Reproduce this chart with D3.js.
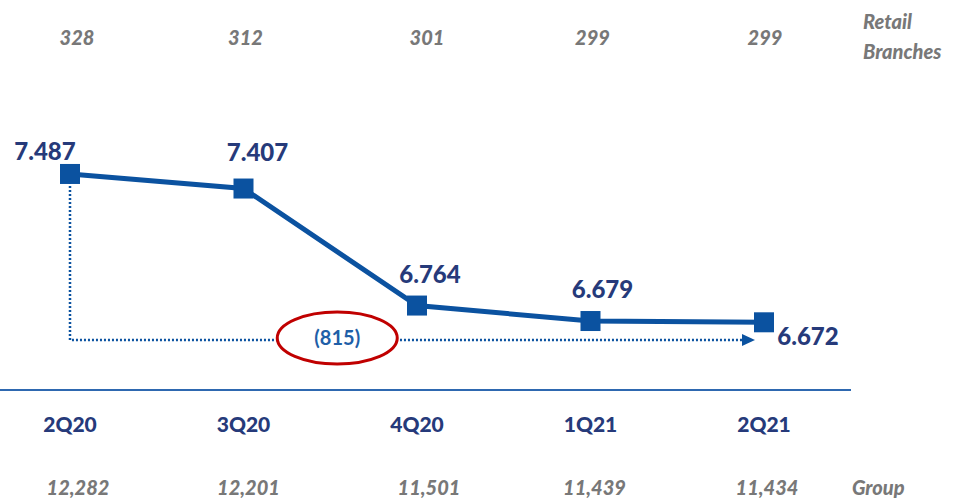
<!DOCTYPE html>
<html>
<head>
<meta charset="utf-8">
<script src="https://cdn.jsdelivr.net/npm/d3@7"></script>
<style>
  body { margin: 0; background: #fff; }
  text { font-family: Lato, "Open Sans", sans-serif; }
</style>
</head>
<body>
<svg width="958" height="500"></svg>
<script>
// data
var quarters = ["2Q20", "3Q20", "4Q20", "1Q21", "2Q21"];
var employees = [7.487, 7.407, 6.764, 6.679, 6.672];
var branches = ["328", "312", "301", "299", "299"];
var group = ["12,282", "12,201", "11,501", "11,439", "11,434"];
var change = "(815)";

var svg = d3.select("svg"),
    width = +svg.attr("width"),
    height = +svg.attr("height");

var navy = "#263a7a", blue = "#0b52a0", gray = "#787878";

var x = d3.scalePoint()
    .domain(quarters)
    .range([70, 764]);

var y = d3.scaleLinear()
    .domain([6.3, 7.7])
    .range([390, 390 - 1.4 * 182]);

// base axis line
svg.append("line")
    .attr("x1", 0).attr("x2", 851)
    .attr("y1", y(6.3)).attr("y2", y(6.3))
    .attr("stroke", "#2e68b0")
    .attr("stroke-width", 2);

// dotted bracket showing the change
var first = quarters[0], last = quarters[quarters.length - 1];
var dy = 340;
svg.append("path")
    .attr("d", "M" + x(first) + "," + y(employees[0]) + "V" + dy + "H" + (x(last) - 20))
    .attr("fill", "none")
    .attr("stroke", blue)
    .attr("stroke-width", 2.5)
    .attr("stroke-dasharray", "2,2");

svg.append("path")
    .attr("d", "M" + (x(last) - 22) + "," + (dy - 6) + "L" + (x(last) - 9) + "," + dy + "L" + (x(last) - 22) + "," + (dy + 6) + "Z")
    .attr("fill", blue);

// ellipse + change label
var ex = (x(quarters[1]) + x(quarters[2])) / 2 + 7;
svg.append("ellipse")
    .attr("cx", ex).attr("cy", dy - 2)
    .attr("rx", 60).attr("ry", 26)
    .attr("fill", "#fff")
    .attr("stroke", "#c00000")
    .attr("stroke-width", 3);

svg.append("text")
    .attr("x", ex).attr("y", dy + 5)
    .attr("text-anchor", "middle")
    .attr("fill", "#1f5fa8")
    .attr("font-weight", "bold")
    .attr("font-size", 20)
    .text(change);

// line
var line = d3.line()
    .x(function(d, i) { return x(quarters[i]); })
    .y(function(d) { return y(d); });

svg.append("path")
    .datum(employees)
    .attr("d", line)
    .attr("fill", "none")
    .attr("stroke", blue)
    .attr("stroke-width", 5);

svg.selectAll("rect.pt")
    .data(employees)
    .enter().append("rect")
    .attr("class", "pt")
    .attr("x", function(d, i) { return x(quarters[i]) - 10; })
    .attr("y", function(d) { return y(d) - 10; })
    .attr("width", 20).attr("height", 20)
    .attr("fill", blue);

// value labels
var lblDx = [-25, 14, 13, 12, 44];
var lblDy = [-14, -28, -23, -23, 23];
svg.selectAll("text.val")
    .data(employees)
    .enter().append("text")
    .attr("class", "val")
    .attr("x", function(d, i) { return x(quarters[i]) + lblDx[i]; })
    .attr("y", function(d, i) { return y(d) + lblDy[i]; })
    .attr("text-anchor", "middle")
    .attr("fill", navy)
    .attr("font-weight", "900")
    .attr("font-size", 24)
    .text(function(d) { return d3.format(".3f")(d); });

// category labels
svg.selectAll("text.cat")
    .data(quarters)
    .enter().append("text")
    .attr("class", "cat")
    .attr("x", function(d) { return x(d); })
    .attr("y", 432)
    .attr("text-anchor", "middle")
    .attr("fill", navy)
    .attr("font-weight", "900")
    .attr("font-size", 21)
    .text(function(d) { return d; });

// retail branches row
svg.selectAll("text.br")
    .data(branches)
    .enter().append("text")
    .attr("class", "br")
    .attr("x", function(d, i) { return x(quarters[i]) + [7, 2, 10, 2, 1][i]; })
    .attr("y", 45)
    .attr("text-anchor", "middle")
    .attr("fill", gray)
    .attr("font-style", "italic")
    .attr("font-weight", "900")
    .attr("font-size", 20)
    .text(function(d) { return d; });

svg.append("text")
    .attr("x", 863).attr("y", 29)
    .attr("fill", gray).attr("font-style", "italic").attr("font-weight", "900").attr("font-size", 20)
    .text("Retail");
svg.append("text")
    .attr("x", 863).attr("y", 59)
    .attr("fill", gray).attr("font-style", "italic").attr("font-weight", "900").attr("font-size", 20)
    .text("Branches");

// group row
svg.selectAll("text.gr")
    .data(group)
    .enter().append("text")
    .attr("class", "gr")
    .attr("x", function(d, i) { return x(quarters[i]) + [8, 5, 12, 4, 3][i]; })
    .attr("y", 495)
    .attr("text-anchor", "middle")
    .attr("fill", gray)
    .attr("font-style", "italic")
    .attr("font-weight", "900")
    .attr("font-size", 20)
    .text(function(d) { return d; });

svg.append("text")
    .attr("x", 852).attr("y", 495)
    .attr("fill", gray).attr("font-style", "italic").attr("font-weight", "900").attr("font-size", 20)
    .text("Group");
</script>
</body>
</html>
